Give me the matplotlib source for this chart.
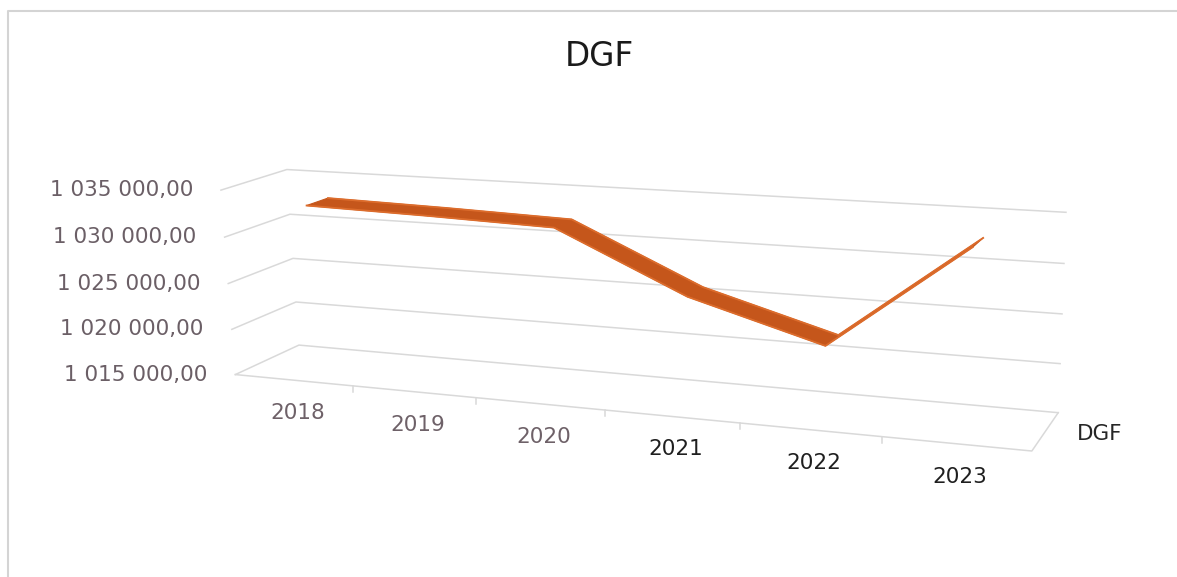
import numpy as np
import matplotlib.pyplot as plt
from matplotlib.patches import Polygon

# DGF yearly values
years = ["2018", "2019", "2020", "2021", "2022", "2023"]
dgf = [1032850, 1032550, 1032150, 1026000, 1022100, 1032800]
value_ticks = [1015000, 1020000, 1025000, 1030000, 1035000]
series_name = "DGF"

W, H = 1177, 577
vmin, vmax = value_ticks[0], value_ticks[-1]
n = len(years)

# camera: world (category u, value 0..1, depth 0..1) -> pixel, fitted on the box corners
anchors = [
    ((0, 0, 0), (235, 373)), ((6, 0, 0), (1032, 450)),
    ((0, 0, 1), (297, 345)), ((6, 0, 1), (1057, 410)),
    ((0, 1, 0), (222, 188)), ((0, 1, 1), (287, 170)), ((6, 1, 1), (1065, 213)),
    ((0, .25, 1), (300, 302)), ((0, .5, 1), (293, 259)), ((0, .75, 1), (287, 215)),
    ((6, .25, 1), (1062, 363)), ((6, .5, 1), (1063, 315)), ((6, .75, 1), (1064, 263)),
    ((1, 0, 0), (352, 387)), ((2, 0, 0), (477, 397)), ((3, 0, 0), (605, 410)),
    ((4, 0, 0), (738, 427)), ((5, 0, 0), (882, 437)),
]
A, b = [], []
for (X, Y, Z), (x, y) in anchors:
    A.append([X, Y, Z, 1, 0, 0, 0, 0, -x * X, -x * Y, -x * Z]); b.append(x)
    A.append([0, 0, 0, 0, X, Y, Z, 1, -y * X, -y * Y, -y * Z]); b.append(y)
p = np.linalg.lstsq(np.array(A, float), np.array(b, float), rcond=None)[0]
P = np.append(p, 1.0).reshape(3, 4)


def proj(u, v, d):
    u, v, d = np.broadcast_arrays(np.asarray(u, float), np.asarray(v, float), np.asarray(d, float))
    pts = P @ np.vstack([u.ravel(), v.ravel(), d.ravel(), np.ones(u.size)])
    return pts[0] / pts[2], pts[1] / pts[2]


def norm(val):
    return (np.asarray(val, float) - vmin) / (vmax - vmin)


fig = plt.figure(figsize=(W / 100, H / 100), dpi=100)
ax = fig.add_axes([0, 0, 1, 1])
ax.set_xlim(0, W)
ax.set_ylim(H, 0)
ax.axis("off")

font = ["DejaVu Sans"]
grid_c = "#d9d9d9"
# chart border
ax.plot([8, 8, W], [H, 11, 11], color="#d4d4d4", lw=1.5)

# value gridlines on left wall and back wall
for t in value_ticks:
    v = norm(t)
    xs, ys = proj([0, 0, n], [v, v, v], [0, 1, 1])
    ax.plot(xs, ys, color=grid_c, lw=1.1, zorder=1)

# floor front and right edges, category ticks
xs, ys = proj([0, n, n], [0, 0, 0], [0, 0, 1])
ax.plot(xs, ys, color=grid_c, lw=1.1, zorder=1)
for i in range(1, n):
    x0, y0 = proj(i, 0, 0)
    ax.plot([x0[0], x0[0]], [y0[0], y0[0] + 6], color=grid_c, lw=1.1, zorder=1)

# value labels
for t in value_ticks:
    x0, y0 = proj(0, norm(t), 0)
    lab = f"{t:,.2f}".replace(",", " ").replace(".", ",")
    ax.text(x0[0] - 28, y0[0], lab, ha="right", va="center", fontsize=15.5,
            family=font, color="#6b5f66")

# category labels
for i, yr in enumerate(years):
    x0, y0 = proj(i + 0.5, 0, 0)
    col = "#6e6168" if i < 3 else "#1f1f1f"
    ax.text(x0[0] + 4, y0[0] + 33, yr, ha="center", va="center", fontsize=15.5,
            family=font, color=col)

# series label on the depth axis
x0, y0 = proj(n, 0, 0.5)
ax.text(x0[0] + 31, y0[0] + 3, series_name, ha="left", va="center", fontsize=15.5,
        family=font, color="#262626")

# ribbon
u = np.arange(n) + 0.5
v = norm(dgf)
d0, d1 = 0.38, 0.72
fx, fy = proj(u, v, np.full(n, d0))
bx, by = proj(u, v, np.full(n, d1))
for i in range(n - 1):
    poly = [(fx[i], fy[i]), (fx[i + 1], fy[i + 1]), (bx[i + 1], by[i + 1]), (bx[i], by[i])]
    ax.add_patch(Polygon(poly, closed=True, facecolor="#c5561b", edgecolor="#c5561b",
                         lw=0.8, zorder=3))
ax.plot(fx, fy, color="#dc6c2c", lw=1.3, zorder=4)
ax.plot(bx, by, color="#dc6c2c", lw=1.3, zorder=4)

ax.text(599, 57, "DGF", ha="center", va="center", fontsize=23.5,
        family=font, color="#1a1a1a")

fig.savefig("out.png", dpi=100)
